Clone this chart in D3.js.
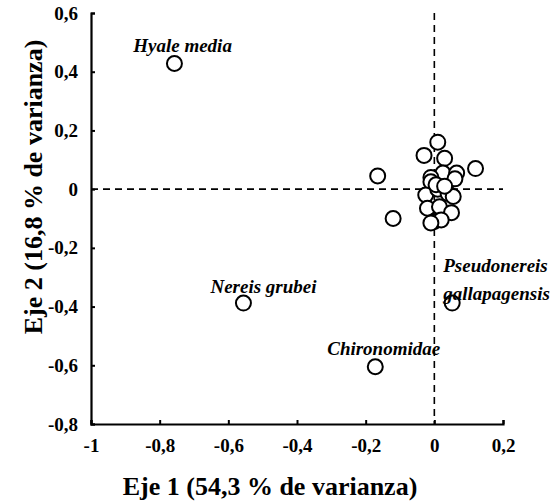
<!DOCTYPE html>
<html>
<head>
<meta charset="utf-8">
<script src="https://cdn.jsdelivr.net/npm/d3@7"></script>
<style>
  body { margin: 0; background: #fff; }
  text { font-family: "Liberation Serif", "Times New Roman", serif; font-weight: bold; fill: #000; }
</style>
</head>
<body>
<div id="chart"></div>
<script>
var width = 557;
var height = 503;

// axis 1 / axis 2 scores for each taxon
var eje1 = [-0.757, -0.556, -0.172, 0.052, -0.165, -0.12,
  0.01, -0.03, 0.03, 0.12, 0.025, 0.065, -0.01, -0.01, 0.06, -0.025, 0.01,
  0.04, -0.02, 0.015, 0.05, 0.0, 0.02, -0.01, 0.055, 0.005, 0.03];
var eje2 = [0.428, -0.388, -0.605, -0.388, 0.045, -0.1,
  0.16, 0.115, 0.105, 0.07, 0.055, 0.055, 0.04, 0.025, 0.035, -0.02, 0.0,
  -0.015, -0.065, -0.06, -0.08, -0.11, -0.105, -0.115, -0.025, 0.015, 0.01];

var etiquetas = ["Hyale media", "Nereis grubei", "Chironomidae", "Pseudonereis", "gallapagensis"];
var etiquetaX = [-0.877, -0.652, -0.312, 0.026, 0.026];
var etiquetaY = [0.466, -0.354, -0.565, -0.282, -0.378];

var xTicks = [-1, -0.8, -0.6, -0.4, -0.2, 0, 0.2];
var yTicks = [0.6, 0.4, 0.2, 0, -0.2, -0.4, -0.6, -0.8];

var xScale = d3.scaleLinear().domain([-1, 0.2]).range([91, 503]);
var yScale = d3.scaleLinear().domain([-0.8, 0.6]).range([424, 13]);

var fmt = function(d) { return String(d).replace(".", ","); };

var svg = d3.select("#chart").append("svg")
    .attr("width", width)
    .attr("height", height);

// dashed zero lines
svg.append("line")
    .attr("x1", xScale(-1)).attr("x2", xScale(0.2))
    .attr("y1", yScale(0)).attr("y2", yScale(0))
    .attr("stroke", "#000").attr("stroke-width", 1.6)
    .attr("stroke-dasharray", "7,5");
svg.append("line")
    .attr("x1", xScale(0)).attr("x2", xScale(0))
    .attr("y1", yScale(0.6)).attr("y2", yScale(-0.8))
    .attr("stroke", "#000").attr("stroke-width", 1.6)
    .attr("stroke-dasharray", "7,5");

var xAxis = d3.axisBottom(xScale).tickValues(xTicks).tickFormat(fmt).tickSize(-4).tickPadding(15);
var yAxis = d3.axisLeft(yScale).tickValues(yTicks).tickFormat(fmt).tickSize(-4).tickPadding(13);

var gx = svg.append("g")
    .attr("transform", "translate(0," + yScale(-0.8) + ")")
    .call(xAxis);
var gy = svg.append("g")
    .attr("transform", "translate(" + xScale(-1) + ",0)")
    .call(yAxis);

[gx, gy].forEach(function(g) {
  g.attr("font-size", null).attr("font-family", null);
  g.select(".domain").attr("stroke-width", 2.2);
  g.selectAll(".tick line").attr("stroke-width", 2);
  g.selectAll(".tick text")
    .style("font-family", "'Liberation Serif', serif")
    .style("font-weight", "bold")
    .style("font-size", "19px");
});

// points
svg.selectAll("circle.pt")
    .data(eje1)
    .enter()
    .append("circle")
    .attr("class", "pt")
    .attr("cx", function(d) { return xScale(d); })
    .attr("cy", function(d, i) { return yScale(eje2[i]); })
    .attr("r", 7.5)
    .attr("fill", "#fff")
    .attr("stroke", "#000")
    .attr("stroke-width", 2);

// species labels
svg.selectAll("text.lab")
    .data(etiquetas)
    .enter()
    .append("text")
    .attr("class", "lab")
    .attr("x", function(d, i) { return xScale(etiquetaX[i]); })
    .attr("y", function(d, i) { return yScale(etiquetaY[i]); })
    .style("font-style", "italic")
    .style("font-size", "19px")
    .text(function(d) { return d; });

// axis titles
svg.append("text")
    .attr("x", 270)
    .attr("y", 495)
    .attr("text-anchor", "middle")
    .style("font-size", "26px")
    .text("Eje 1 (54,3 % de varianza)");

svg.append("text")
    .attr("transform", "translate(42,187) rotate(-90)")
    .attr("text-anchor", "middle")
    .style("font-size", "26px")
    .text("Eje 2 (16,8 % de varianza)");
</script>
</body>
</html>
